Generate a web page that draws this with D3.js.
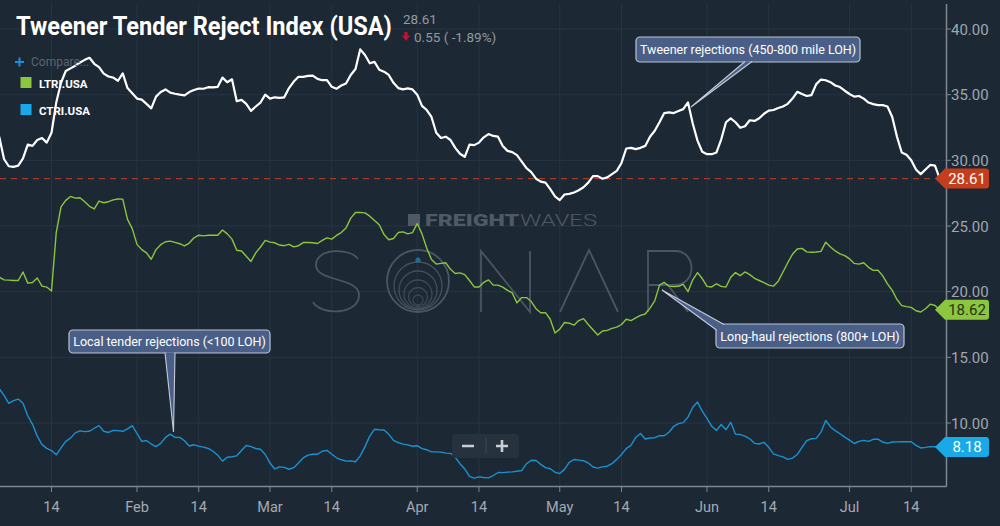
<!DOCTYPE html>
<html><head><meta charset="utf-8">
<script src="https://cdn.jsdelivr.net/npm/d3@7"></script>
<style>
html,body{margin:0;padding:0;background:#1d2835;overflow:hidden}
svg{display:block}
text{font-family:Roboto,"Noto Sans",sans-serif}
</style>
</head><body>
<svg id="chart" width="1000" height="526"></svg>
<script>
// ---------------- DATA (daily values from 2019-01-03) ----------------
const startDate = "2019-01-03";

const tweenerValues = [
  31.8, 30.1, 29.55, 29.5, 29.6, 30.15, 31.2, 31.1, 31.55, 31.7,
  31.35, 32.1, 34.4, 35.9, 36.8, 37.0, 37.2, 37.45, 37.65, 37.81,
  37.35, 37.1, 36.6, 36.38, 36.3, 36.06, 36.62, 35.5, 35.1, 34.7,
  34.62, 34.3, 33.96, 34.85, 35.2, 35.4, 35.15, 35.07, 35.0, 34.95,
  35.2, 35.35, 35.47, 35.45, 35.57, 35.55, 35.6, 36.3, 35.95, 36.17,
  34.5, 34.6, 34.3, 33.77, 34.1, 34.4, 35.0, 34.7, 34.8, 34.75,
  34.8, 35.5, 36.0, 36.36, 36.36, 36.43, 36.45, 36.2, 36.1, 36.11,
  35.6, 35.45, 35.7, 35.85, 36.5, 36.95, 38.45, 38.02, 37.39, 37.5,
  36.9, 36.75, 36.5, 35.9, 35.5, 35.4, 35.48, 35.4, 35.0, 34.15,
  33.83, 33.3, 32.1, 31.7, 31.8, 31.55, 30.95, 30.5, 30.27, 31.2,
  31.16, 31.35, 31.75, 32.0, 31.86, 31.8, 31.1, 30.72, 30.63, 30.4,
  29.9, 29.4, 29.1, 28.6, 28.38, 28.3, 27.8, 27.25, 26.97, 27.4,
  27.45, 27.55, 27.72, 27.95, 28.3, 28.8, 28.8, 28.6, 28.7, 28.95,
  29.2, 29.8, 30.9, 30.95, 30.85, 30.95, 31.1, 31.8, 32.25, 32.9,
  33.6, 33.65, 33.6, 33.75, 33.9, 34.41, 32.8, 31.5, 30.65, 30.47,
  30.47, 30.6, 31.6, 32.9, 33.19, 32.9, 32.48, 32.6, 33.05, 33.0,
  33.2, 33.55, 33.78, 33.83, 33.98, 34.1, 34.3, 34.7, 35.22, 35.05,
  34.9, 34.97, 35.8, 36.15, 36.1, 35.95, 35.7, 35.58, 35.3, 35.05,
  34.85, 34.9, 34.7, 34.4, 34.28, 34.2, 34.2, 34.1, 33.3, 31.8,
  30.6, 30.42, 30.0, 29.3, 28.95, 29.3, 29.65, 29.6, 28.61
];

const longHaulValues = [
  21.1, 20.9, 20.88, 20.85, 20.85, 21.5, 20.65, 20.7, 21.04, 20.42,
  20.35, 20.05, 24.5, 26.45, 26.95, 27.25, 27.12, 27.15, 26.85, 26.5,
  26.3, 26.9, 26.77, 26.85, 26.99, 27.06, 27.05, 25.5, 24.8, 23.6,
  23.2, 22.95, 22.47, 23.2, 23.58, 23.8, 23.85, 23.75, 23.65, 23.48,
  23.7, 24.1, 24.3, 24.25, 24.3, 24.3, 24.3, 24.7, 24.4, 24.0,
  23.15, 23.1, 22.7, 22.3, 22.95, 23.4, 23.9, 23.77, 23.72, 23.55,
  23.5, 23.6, 23.41, 23.5, 23.74, 23.74, 23.72, 23.67, 23.9, 24.1,
  24.0, 24.28, 24.5, 24.85, 25.6, 26.03, 26.03, 26.0, 25.75, 25.42,
  25.1, 24.35, 23.95, 24.05, 24.5, 24.55, 24.4, 24.5, 25.19, 24.4,
  23.3, 22.45, 22.1, 22.15, 22.2, 21.7, 21.38, 21.43, 21.3, 20.85,
  20.36, 20.36, 20.7, 20.9, 20.5, 20.5, 20.35, 20.1, 19.9, 19.15,
  19.55, 19.55, 19.25, 18.7, 18.4, 18.4, 17.9, 16.85, 17.15, 17.65,
  17.6, 17.45, 17.8, 17.95, 17.5, 17.1, 16.7, 17.0, 17.05, 17.2,
  17.3, 17.5, 17.9, 17.8, 18.0, 18.2, 18.3, 18.75, 19.3, 20.5,
  20.7, 20.42, 20.38, 20.41, 20.55, 20.0, 20.9, 21.45, 21.0, 20.4,
  20.36, 20.6, 20.4, 20.35, 21.1, 21.45, 21.22, 21.5, 21.3, 21.02,
  20.85, 20.68, 20.5, 20.42, 20.8, 21.5, 22.2, 22.85, 23.25, 23.3,
  23.03, 23.0, 23.02, 23.07, 23.77, 23.4, 23.1, 22.88, 22.75, 22.5,
  22.15, 22.1, 22.2, 21.85, 21.62, 21.63, 21.2, 20.6, 20.1, 19.4,
  18.94, 18.86, 18.8, 18.55, 18.45, 18.7, 19.05, 18.95, 18.62
];

const localValues = [
  12.62, 12.1, 11.5, 11.7, 11.82, 11.5, 10.55, 9.9, 9.0, 8.35,
  8.07, 7.9, 7.58, 8.1, 8.6, 8.85, 9.25, 9.4, 9.34, 9.37,
  9.6, 9.8, 9.37, 9.28, 9.44, 9.42, 9.37, 9.55, 9.8, 9.2,
  8.6, 8.67, 8.4, 8.2, 8.45, 8.9, 9.15, 8.91, 8.9, 8.65,
  8.25, 8.34, 8.24, 8.16, 8.06, 7.85, 7.55, 7.1, 7.39, 7.43,
  7.5, 7.9, 8.29, 8.2, 8.06, 8.0, 7.6, 6.95, 6.5, 6.66,
  6.62, 6.48, 6.6, 6.95, 7.35, 7.55, 7.62, 7.62, 7.85, 7.92,
  7.62, 7.35, 7.2, 7.1, 7.12, 7.05, 7.5, 8.2, 9.0, 9.52,
  9.49, 9.47, 9.15, 8.68, 8.5, 8.39, 8.33, 8.23, 8.27, 8.05,
  7.96, 7.8, 7.8, 7.78, 7.71, 7.69, 7.38, 6.9, 6.5, 5.94,
  5.8, 5.9, 5.85, 5.82, 6.0, 6.23, 6.22, 6.26, 6.28, 6.33,
  6.38, 6.9, 7.16, 7.15, 6.85, 6.6, 6.52, 6.25, 6.15, 6.47,
  7.0, 7.22, 7.17, 7.13, 6.95, 6.65, 6.56, 6.66, 6.71, 6.9,
  7.23, 7.6, 8.05, 8.3, 8.9, 9.2, 8.78, 8.86, 8.88, 9.04,
  9.03, 9.3, 9.75, 9.95, 10.03, 10.45, 11.2, 11.6, 10.9, 10.35,
  9.75, 9.44, 9.89, 9.49, 10.05, 9.15, 9.12, 9.0, 8.8, 8.45,
  8.4, 8.53, 8.15, 7.65, 7.52, 7.42, 7.23, 7.33, 7.6, 8.15,
  8.66, 8.8, 8.83, 9.3, 10.19, 9.7, 9.42, 9.18, 8.92, 8.7,
  8.44, 8.6, 8.68, 8.6, 8.76, 8.77, 8.55, 8.45, 8.55, 8.56,
  8.57, 8.57, 8.57, 8.3, 8.1, 8.14, 8.2, 8.19, 8.18
];

const xTickDates  = ["2019-01-14","2019-02-01","2019-02-14","2019-03-01","2019-03-14","2019-04-01",
                     "2019-04-14","2019-05-01","2019-05-14","2019-06-01","2019-06-14","2019-07-01","2019-07-14"];
const xTickLabels = ["14","Feb","14","Mar","14","Apr","14","May","14","Jun","14","Jul","14"];
const yTickValues = [10, 15, 20, 25, 30, 35, 40];

const titleText = "Tweener Tender Reject Index (USA)";
const changeText = "0.55 ( -1.89%)";
const legendNames = ["LTRI.USA", "CTRI.USA"];
const annotationTexts = ["Tweener rejections (450-800 mile LOH)", "Long-haul rejections (800+ LOH)", "Local tender rejections (<100 LOH)"];

// ---------------- CHART ----------------
const svg = d3.select("#chart");
const W = 1000, H = 526;
const plotRight = 946, plotBottom = 486, plotTop = 4;
const BG = "#1d2835";
const C_WHITE = "#ffffff", C_GREEN = "#8cc63f", C_BLUE = "#1a92cf", C_RED = "#c63d1c";

svg.append("rect").attr("width", W).attr("height", H).attr("fill", BG);

const parse = d3.utcParse("%Y-%m-%d");
const t0 = parse(startDate);
const toSeries = vals => vals.map((v, i) => ({date: d3.utcDay.offset(t0, i), value: v}));
const tweener = toSeries(tweenerValues);
const longHaul = toSeries(longHaulValues);
const local = toSeries(localValues);

const x = d3.scaleUtc()
  .domain([new Date(Date.UTC(2019, 0, 3, 3, 47)), new Date(Date.UTC(2019, 6, 21, 7, 40))])
  .range([0, plotRight]);
const y = d3.scaleLinear().domain([10, 40]).range([423, 29]);

// grid
const grid = svg.append("g");
grid.selectAll("line.v").data(xTickDates).join("line")
  .attr("x1", d => x(parse(d))).attr("x2", d => x(parse(d)))
  .attr("y1", plotTop).attr("y2", plotBottom)
  .attr("stroke", "#273443").attr("stroke-width", 1);
grid.selectAll("line.h").data(yTickValues).join("line")
  .attr("x1", 0).attr("x2", plotRight)
  .attr("y1", d => y(d)).attr("y2", d => y(d))
  .attr("stroke", "#273443").attr("stroke-width", 1);

// watermark
const wm = svg.append("g").attr("fill", "none").attr("stroke", "#4b5664").attr("stroke-width", 1.8);
wm.append("path").attr("d", "M358,259 C351,248 316,247 316,265 C316,282 359,277 359,295 C359,315 321,316 313,302");
wm.append("circle").attr("cx", 418).attr("cy", 281).attr("r", 31);
[[24, 5], [19, 9], [14, 13], [9.5, 16], [5, 19]].forEach(([r, dy], i) =>
  wm.append("circle").attr("cx", 418).attr("cy", 281 + dy).attr("r", r)
    .attr("stroke-width", 1.3).attr("stroke-opacity", 0.85 - i * 0.05));
wm.append("path").attr("d", "M481,312 L481,251 L530,312 L530,251");
wm.append("path").attr("d", "M560,312 L589,250 L618,312");
wm.append("path").attr("d", "M648,312 L648,251 L675,251 C697,251 697,285 675,285 L648,285 M668,285 L688,312");
svg.append("circle").attr("cx", 418).attr("cy", 260).attr("r", 2.6).attr("fill", "#1f6c95");
const fw = svg.append("g");
fw.append("rect").attr("x", 408).attr("y", 214).attr("width", 12).attr("height", 12).attr("fill", "#4f5966");
fw.append("text").attr("x", 425).attr("y", 226).attr("font-size", 16).attr("font-weight", 900)
  .attr("fill", "#505a67").attr("textLength", 94).attr("lengthAdjust", "spacingAndGlyphs").text("FREIGHT");
fw.append("text").attr("x", 520).attr("y", 226).attr("font-size", 16).attr("font-weight", 300)
  .attr("fill", "#505a67").attr("textLength", 77).attr("lengthAdjust", "spacingAndGlyphs").text("WAVES");

// lines
svg.append("clipPath").attr("id", "clip").append("rect")
  .attr("x", 0).attr("y", plotTop).attr("width", plotRight).attr("height", plotBottom - plotTop);
const line = d3.line().x(d => x(d.date)).y(d => y(d.value));
const lines = svg.append("g").attr("clip-path", "url(#clip)").attr("fill", "none").attr("stroke-linejoin", "round");
const lastT = tweenerValues[tweenerValues.length - 1];
lines.append("line").attr("x1", 0).attr("x2", 936).attr("y1", y(lastT)).attr("y2", y(lastT))
  .attr("stroke", "#a63a22").attr("stroke-width", 1.3).attr("stroke-dasharray", "6,5");
lines.append("path").datum(local).attr("d", line).attr("stroke", C_BLUE).attr("stroke-width", 1.4);
lines.append("path").datum(longHaul).attr("d", line).attr("stroke", C_GREEN).attr("stroke-width", 1.4);
lines.append("path").datum(tweener).attr("d", line).attr("stroke", C_WHITE).attr("stroke-width", 2.2);

// callouts
function callout(bx, by, bw, bh, text, p1, p2, tip) {
  const g = svg.append("g");
  g.append("rect").attr("x", bx).attr("y", by).attr("width", bw).attr("height", bh).attr("rx", 4)
    .attr("fill", "#4a5f87").attr("stroke", "#b9c3d4").attr("stroke-width", 1.2);
  g.append("path").attr("d", `M${p1[0]},${p1[1]} L${tip[0]},${tip[1]} L${p2[0]},${p2[1]}`)
    .attr("fill", "#4a5f87").attr("stroke", "#c3cbd8").attr("stroke-width", 1.1);
  g.append("text").attr("x", bx + bw / 2).attr("y", by + bh / 2 + 4.5).attr("text-anchor", "middle")
    .attr("font-size", 12.5).attr("fill", "#ffffff").text(text);
}
callout(636, 37, 224, 25, annotationTexts[0], [745, 61.5], [752, 61.5], [691, 107]);
callout(716, 324, 188, 24, annotationTexts[1], [716.5, 330], [724, 324.5], [662, 290]);
callout(69, 330, 201, 23, annotationTexts[2], [165, 352.5], [175, 352.5], [173.5, 432]);

// axes
const axisCol = "#7e8790";
svg.append("line").attr("x1", 0).attr("x2", plotRight + 0.5).attr("y1", plotBottom + 0.5).attr("y2", plotBottom + 0.5)
  .attr("stroke", axisCol).attr("stroke-width", 1.5);
svg.append("line").attr("x1", plotRight + 0.5).attr("x2", plotRight + 0.5).attr("y1", plotTop).attr("y2", plotBottom + 0.5)
  .attr("stroke", axisCol).attr("stroke-width", 1.5);
const xa = svg.append("g");
xTickDates.forEach((d, i) => {
  const xx = x(parse(d));
  xa.append("line").attr("x1", xx).attr("x2", xx).attr("y1", plotBottom).attr("y2", plotBottom + 6).attr("stroke", axisCol);
  xa.append("text").attr("x", xx).attr("y", 512).attr("text-anchor", "middle").attr("font-size", 14.5)
    .attr("fill", "#a4aab2").text(xTickLabels[i]);
});
const ya = svg.append("g");
yTickValues.forEach(v => {
  ya.append("line").attr("x1", plotRight).attr("x2", plotRight + 5).attr("y1", y(v)).attr("y2", y(v)).attr("stroke", axisCol);
  ya.append("text").attr("x", 951).attr("y", y(v) + 5.5).attr("font-size", 15).attr("fill", "#a0a6ae").text(d3.format(".2f")(v));
});

// last value tags
function tag(v, fill, textFill) {
  const yy = y(v);
  svg.append("path")
    .attr("d", `M935,${yy} L945,${yy - 10} L986,${yy - 10} Q989,${yy - 10} 989,${yy - 7} L989,${yy + 7} Q989,${yy + 10} 986,${yy + 10} L945,${yy + 10} Z`)
    .attr("fill", fill);
  svg.append("text").attr("x", 967).attr("y", yy + 5.5).attr("text-anchor", "middle").attr("font-size", 15)
    .attr("fill", textFill).text(d3.format(".2f")(v));
}
tag(lastT, C_RED, "#ffffff");
tag(longHaulValues[longHaulValues.length - 1], C_GREEN, "#24321a");
tag(localValues[localValues.length - 1], "#18a9e6", "#ffffff");

// title & header (title horizontally condensed to the reference width)
const title = svg.append("text").attr("x", 0).attr("y", 0).attr("font-size", 26).attr("font-weight", 700)
  .attr("fill", "#ffffff").text(titleText);
const natW = title.node().getComputedTextLength();
title.attr("transform", `translate(16,35) scale(${376 / natW},1)`);
svg.append("text").attr("x", 403).attr("y", 24).attr("font-size", 13.5).attr("fill", "#9399a1").text(d3.format(".2f")(lastT));
svg.append("path").attr("d", "M404.5,32 L407.5,32 L407.5,35.5 L410,35.5 L406,41 L402,35.5 L404.5,35.5 Z").attr("fill", "#c8102e");
svg.append("text").attr("x", 414).attr("y", 42).attr("font-size", 13.5).attr("fill", "#9399a1").text(changeText);

// compare & legend
svg.append("path").attr("d", "M15,62 L24,62 M19.5,57.5 L19.5,66.5").attr("stroke", "#1f8fd6").attr("stroke-width", 2);
svg.append("text").attr("x", 31).attr("y", 66).attr("font-size", 12).attr("fill", "#5a6570").text("Compare...");
const legendColors = [C_GREEN, "#1aa9e8"];
legendNames.forEach((n, i) => {
  svg.append("rect").attr("x", 20.5).attr("y", 77 + i * 27).attr("width", 11).attr("height", 11).attr("fill", legendColors[i]);
  svg.append("text").attr("x", 39).attr("y", 87.5 + i * 27).attr("font-size", 11.5).attr("font-weight", 700)
    .attr("fill", "#ffffff").text(n);
});

// zoom control
const zc = svg.append("g");
zc.append("rect").attr("x", 452).attr("y", 434).attr("width", 67).attr("height", 24).attr("rx", 3).attr("fill", "#27323f");
zc.append("line").attr("x1", 486).attr("x2", 486).attr("y1", 438).attr("y2", 454).attr("stroke", "#3d4855");
zc.append("path").attr("d", "M462,446 L474,446 M496,446 L508,446 M502,440 L502,452")
  .attr("stroke", "#c9ced4").attr("stroke-width", 2.6);
</script>
</body></html>
